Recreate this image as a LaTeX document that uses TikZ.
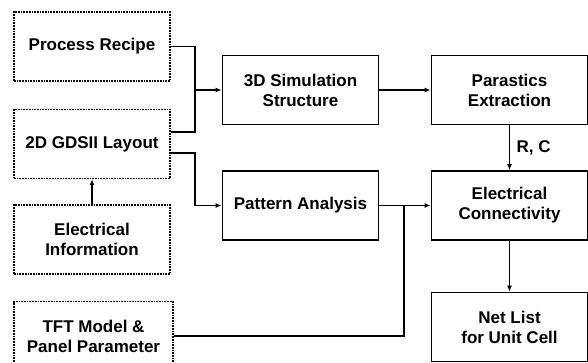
\documentclass[tikz,border=0pt]{standalone}
\usepackage{fontspec}
\setmainfont{Liberation Sans}
\usetikzlibrary{arrows.meta}
\begin{document}
\begin{tikzpicture}[x=1pt,y=-1pt,
  solidbox/.style={draw,line width=1.7pt,minimum width=156pt,minimum height=69pt,
    align=center,font=\bfseries\fontsize{17}{20}\selectfont},
  inbox/.style={solidbox,densely dotted,line width=1.4pt},
  wire/.style={line width=1.5pt},
  flow/.style={wire,-{Latex[length=6pt,width=5pt]}}]
  \clip (0,0) rectangle (588,363);
  % inputs
  \node[inbox] (recipe) at (92,46.5) {Process Recipe};
  \node[inbox] (layout) at (92,144) {2D GDSII Layout};
  \node[inbox] (info) at (92,239.5) {Electrical\\Information};
  \node[inbox,minimum width=159pt] (tft) at (93.5,336) {TFT Model \&\\Panel Parameter};
  % processing
  \node[solidbox] (sim) at (300.5,90) {3D Simulation\\Structure};
  \node[solidbox] (parasitic) at (509.5,90) {Parastics\\Extraction};
  \node[solidbox] (pattern) at (300.5,205.5) {Pattern Analysis};
  \node[solidbox] (conn) at (509.5,205.5) {Electrical\\Connectivity};
  \node[solidbox] (netlist) at (509.5,327) {Net List\\for Unit Cell};
  \coordinate (join) at (195,90);
  \coordinate (bend) at (195,205.5);
  \coordinate (merge) at (404,205.5);
  % connectors
  \draw[wire] (recipe.east) -| (join);
  \draw[wire] ([yshift=12pt]layout.east) -| (join);
  \draw[flow] (join) -- (sim.west);
  \draw[flow] ([yshift=-9pt]layout.east) -| (bend) -- (pattern.west);
  \draw[flow] (info) -- (layout);
  \draw[flow] (sim) -- (parasitic);
  \draw[flow] (parasitic) -- node[right,xshift=3pt,font=\bfseries\fontsize{17}{20}\selectfont] {R, C} (conn);
  \draw[flow] (pattern) -- (conn);
  \draw[wire] (tft.east) -| (merge);
  \draw[flow] (conn) -- (netlist);
\end{tikzpicture}
\end{document}
